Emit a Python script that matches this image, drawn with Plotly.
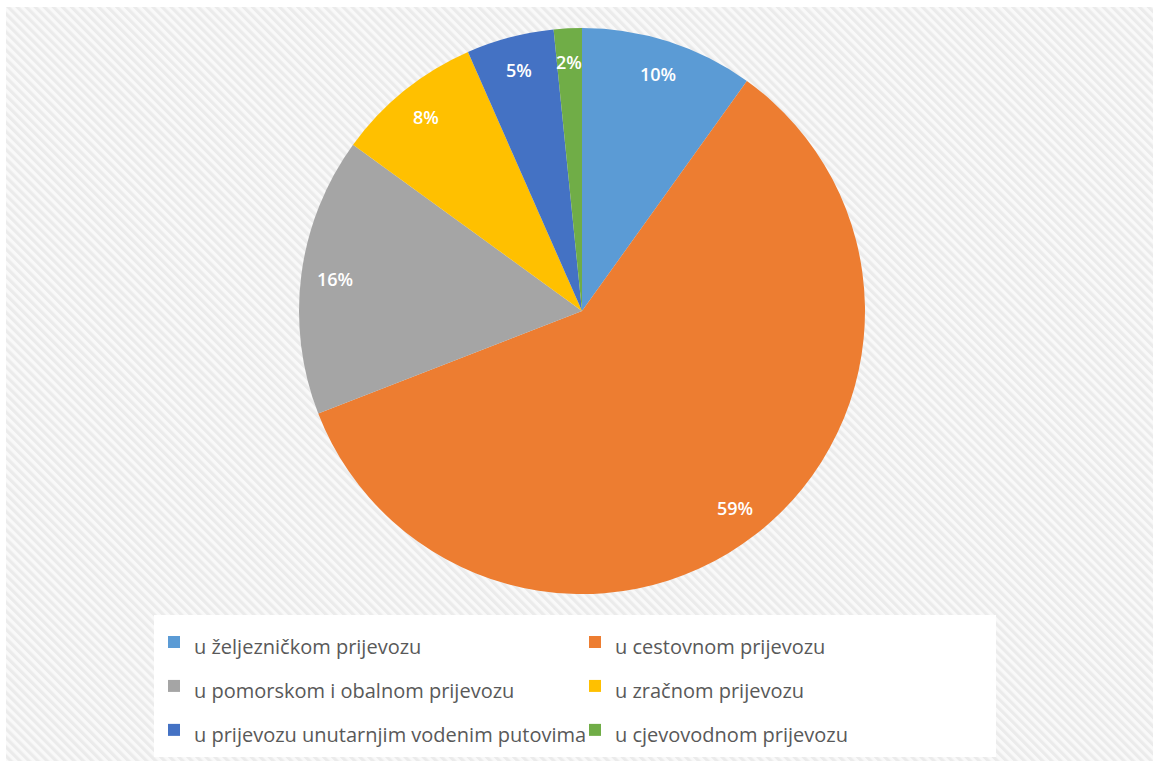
import math
import plotly.graph_objects as go

# ---- data ----
categories = [
    "u željezničkom prijevozu",
    "u cestovnom prijevozu",
    "u pomorskom i obalnom prijevozu",
    "u zračnom prijevozu",
    "u prijevozu unutarnjim vodenim putovima",
    "u cjevovodnom prijevozu",
]
shares = [9.9, 59.2, 15.9, 8.4, 5.0, 1.6]
colors = ["#5B9BD5", "#ED7D31", "#A5A5A5", "#FFC000", "#4472C4", "#70AD47"]

W, H = 1153, 761
# pie geometry (pixels)
cx_px, cy_px, r_px = 582, 311, 283

legend_labels = [
    "<span style='font-size:20px'>%s</span>" % c for c in categories
]

fig = go.Figure()
fig.add_trace(go.Pie(
    labels=legend_labels,
    values=shares,
    sort=False,
    direction="clockwise",
    rotation=0,
    marker=dict(colors=colors, line=dict(width=0)),
    textinfo="none",
    hoverinfo="label+percent",
    domain=dict(
        x=[(cx_px - r_px) / W, (cx_px + r_px) / W],
        y=[(H - cy_px - r_px) / H, (H - cy_px + r_px) / H],
    ),
    showlegend=True,
))

# percentage labels placed along each slice bisector (computed from data)
total = sum(shares)
cum = 0.0
annotations = []
for v in shares:
    mid = (cum + v / 2) / total * 2 * math.pi
    cum += v
    x_px = cx_px + 0.88 * r_px * math.sin(mid)
    y_px = cy_px - 0.88 * r_px * math.cos(mid)
    annotations.append(dict(
        x=x_px / W, y=1 - y_px / H, xref="paper", yref="paper",
        text="%d%%" % round(v / total * 100),
        showarrow=False,
        font=dict(family="Open Sans", size=18, color="white", weight=600),
        xanchor="center", yanchor="middle",
    ))

stripe_svg = (
    "data:image/svg+xml;utf8,"
    "<svg xmlns='http://www.w3.org/2000/svg' width='1147' height='754'>"
    "<defs><pattern id='p' width='6.4' height='6.4' patternUnits='userSpaceOnUse' "
    "patternTransform='rotate(-45)'><rect width='6.4' height='6.4' fill='%23f9f9f9'/>"
    "<rect width='3.2' height='6.4' fill='%23ebebeb'/></pattern></defs>"
    "<rect width='100%25' height='100%25' fill='url(%23p)'/></svg>"
)

fig.update_layout(
    width=W, height=H,
    margin=dict(l=0, r=0, t=0, b=0),
    paper_bgcolor="white",
    plot_bgcolor="white",
    annotations=annotations,
    images=[dict(
        source=stripe_svg, xref="paper", yref="paper",
        x=6 / W, y=1 - 7 / H, sizex=(W - 6) / W, sizey=(H - 7) / H,
        xanchor="left", yanchor="top", sizing="stretch", layer="below",
    )],
    legend=dict(
        orientation="h",
        x=154 / W, y=1 - 615 / H, xanchor="left", yanchor="top",
        bgcolor="white",
        entrywidth=376, entrywidthmode="pixels",
        font=dict(family="Open Sans", size=31.5, color="#595959"),
        traceorder="normal",
    ),
)

fig.write_html(
    "out.html",
    config={"displayModeBar": False},
    post_script="document.body.style.margin='0';",
)
